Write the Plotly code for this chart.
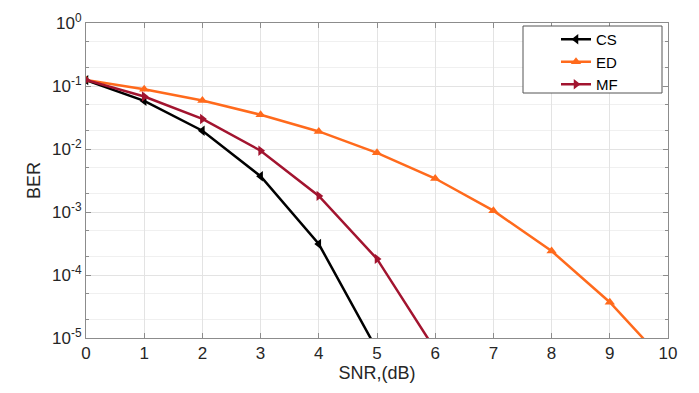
import plotly.graph_objects as go

snr = [0, 1, 2, 3, 4, 5, 6, 7, 8, 9, 10]
ber_cs = [0.124, 0.058, 0.0195, 0.0037, 3.1e-4, 6.5e-6]
ber_ed = [0.125, 0.089, 0.059, 0.035, 0.019, 0.0087, 0.0034, 0.00105, 2.4e-4, 3.7e-5, 3.7e-6]
ber_mf = [0.125, 0.068, 0.030, 0.0094, 0.0018, 1.8e-4, 6.5e-6]

ytick_vals = [1, 0.1, 0.01, 0.001, 1e-4, 1e-5]
ytick_text = ["10<sup>0</sup>", "10<sup>-1</sup>", "10<sup>-2</sup>",
              "10<sup>-3</sup>", "10<sup>-4</sup>", "10<sup>-5</sup>"]

# the page adds an 8px body margin, so everything is placed relative to that
W, H = 699, 393
L, R, T, B = 78, 39, 15, 63
PW, PH = W - L - R, H - T - B

FONT = "Liberation Sans, Arial"

fig = go.Figure()
series = [
    ("CS", snr[:len(ber_cs)], ber_cs, "black", "triangle-left"),
    ("ED", snr[:len(ber_ed)], ber_ed, "#FF6A1C", "triangle-up"),
    ("MF", snr[:len(ber_mf)], ber_mf, "#A2142F", "triangle-right"),
]
for name, x, y, c, sym in series:
    fig.add_trace(go.Scatter(
        x=x, y=y, name=name, mode="lines+markers",
        line=dict(color=c, width=2.5),
        marker=dict(symbol=sym, size=9, color=c),
    ))

axis_common = dict(
    showline=True, linecolor="#8c8c8c", linewidth=1, mirror="ticks",
    ticks="inside", tickcolor="#8c8c8c", ticklen=5,
    gridcolor="#e3e3e3", zeroline=False, automargin=False,
    tickfont=dict(family=FONT, size=17, color="#262626"),
)

fig.update_layout(
    width=W, height=H,
    margin=dict(l=L, r=R, t=T, b=B),
    paper_bgcolor="white", plot_bgcolor="white",
    showlegend=True,
    legend=dict(
        x=(548 - L) / PW, xanchor="left", y=1 - (15 - T) / PH, yanchor="top",
        bgcolor="rgba(0,0,0,0)",
        font=dict(family=FONT, size=15, color="black"),
        tracegroupgap=0,
    ),
    shapes=[dict(type="rect", xref="paper", yref="paper",
                 x0=(515 - L) / PW, x1=(654 - L) / PW,
                 y0=1 - (85 - T) / PH, y1=1 - (18 - T) / PH,
                 line=dict(color="#555555", width=1), fillcolor="white", layer="above")],
    xaxis=dict(
        range=[0, 10], dtick=1,
        title=dict(text="SNR,(dB)", standoff=0,
                   font=dict(family=FONT, size=18, color="#262626")),
        **axis_common,
    ),
    yaxis=dict(
        type="log", range=[-5, 0],
        tickvals=ytick_vals, ticktext=ytick_text,
        ticklabelstandoff=0,
        title=dict(text="BER", standoff=6,
                   font=dict(family=FONT, size=18, color="#262626")),
        minor=dict(showgrid=True, gridcolor="#f0f0f0", ticks="inside",
                   ticklen=3, tickcolor="#8c8c8c"),
        **axis_common,
    ),
)

fig.write_html("out.html")
